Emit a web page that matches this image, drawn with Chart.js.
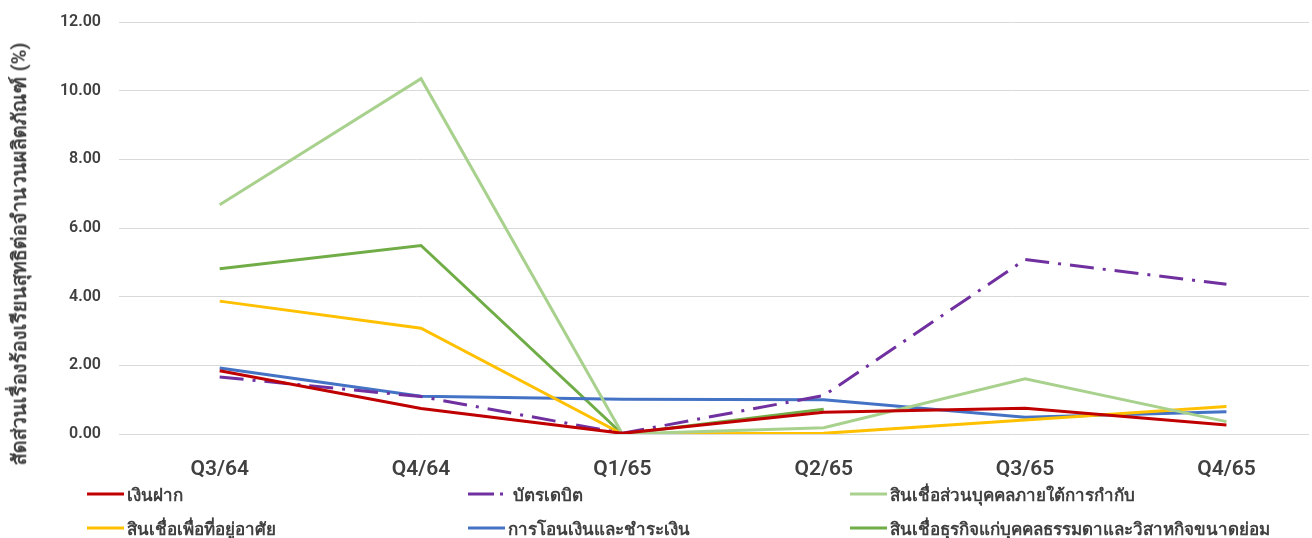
<!DOCTYPE html>
<html>
<head>
<meta charset="utf-8">
<script src="https://cdn.jsdelivr.net/npm/chart.js@4/dist/chart.umd.min.js"></script>
<style>
  html, body { margin: 0; padding: 0; background: #fff; overflow: hidden; }
  #wrap { position: relative; width: 1312px; height: 538px; }
  #yTitle {
    position: absolute; left: 19px; top: 254px;
    transform: translate(-50%, -50%) rotate(-90deg);
    white-space: nowrap;
    font: 700 20px Roboto, 'Noto Sans', sans-serif; color: #404040;
  }
  #legend {
    position: absolute; left: 87px; top: 482px;
    display: grid; grid-template-columns: 381px 382px auto; row-gap: 10px;
    font: 600 17px Roboto, 'Noto Sans', sans-serif; color: #404040;
  }
  .item { display: flex; align-items: center; height: 24px; white-space: nowrap; }
  .item svg { margin-right: 3px; }
</style>
</head>
<body>
<div id="wrap">
  <canvas id="chart" width="1312" height="538"></canvas>
  <div id="yTitle">สัดส่วนเรื่องร้องเรียนสุทธิต่อจำนวนผลิตภัณฑ์ (%)</div>
  <div id="legend"></div>
</div>
<script>
// ── Data ─────────────────────────────────────────────
const CATEGORIES = ['Q3/64', 'Q4/64', 'Q1/65', 'Q2/65', 'Q3/65', 'Q4/65'];
const Y_TICKS    = [0, 2, 4, 6, 8, 10, 12];

const DEPOSIT    = [1.84, 0.74, 0.02, 0.63, 0.75, 0.26];   // เงินฝาก
const DEBIT_CARD = [1.66, 1.09, 0.02, 1.12, 5.08, 4.36];   // บัตรเดบิต
const PERSONAL   = [6.68, 10.35, 0.00, 0.18, 1.61, 0.36];  // สินเชื่อส่วนบุคคลฯ
const HOUSING    = [3.87, 3.08, 0.00, 0.02, 0.41, 0.80];   // สินเชื่อเพื่อที่อยู่อาศัย
const TRANSFER   = [1.92, 1.10, 1.01, 1.00, 0.49, 0.65];   // การโอนเงินและชำระเงิน
const SME        = [4.81, 5.49, 0.00, 0.72, null, null];   // สินเชื่อธุรกิจฯ

const SERIES = [
  { label: 'เงินฝาก',                                      data: DEPOSIT,    color: '#C00000' },
  { label: 'บัตรเดบิต',                                     data: DEBIT_CARD, color: '#7030A0', dash: [24, 9, 3, 9] },
  { label: 'สินเชื่อส่วนบุคคลภายใต้การกำกับ',                   data: PERSONAL,   color: '#A9D18E' },
  { label: 'สินเชื่อเพื่อที่อยู่อาศัย',                           data: HOUSING,    color: '#FFC000' },
  { label: 'การโอนเงินและชำระเงิน',                           data: TRANSFER,   color: '#4472C4' },
  { label: 'สินเชื่อธุรกิจแก่บุคคลธรรมดาและวิสาหกิจขนาดย่อม',    data: SME,        color: '#70AD47' },
];

const FONT = "Roboto, 'Noto Sans', sans-serif";
const TEXT = '#404040';

const datasets = SERIES.map(s => ({
  label: s.label,
  data: s.data.map((v, i) => ({ x: i, y: v })),
  borderColor: s.color,
  backgroundColor: s.color,
  borderWidth: 3,
  borderDash: s.dash || [],
  borderCapStyle: 'butt',
  pointRadius: 0,
  tension: 0,
  spanGaps: false,
}));

new Chart(document.getElementById('chart'), {
  type: 'line',
  data: { datasets },
  options: {
    responsive: false,
    animation: false,
    layout: { padding: { top: 22, right: 3, left: 0, bottom: 0 } },
    plugins: { legend: { display: false }, tooltip: { enabled: false } },
    scales: {
      x: {
        type: 'linear',
        min: -0.5,
        max: 5.41,
        grid: { display: false },
        border: { display: false },
        afterBuildTicks: s => { s.ticks = CATEGORIES.map((_, i) => ({ value: i })); },
        afterFit: s => { s.height = 104; s.paddingLeft = 0; s.paddingRight = 0; },
        ticks: {
          autoSkip: false, maxRotation: 0, padding: 15,
          callback: v => CATEGORIES[v],
          font: { family: FONT, size: 21, weight: '600' }, color: TEXT,
        },
      },
      y: {
        min: 0,
        max: 12,
        afterBuildTicks: s => { s.ticks = Y_TICKS.map(v => ({ value: v })); },
        afterFit: s => { s.width = 119; s.paddingTop = 0; s.paddingBottom = 0; },
        grid: { color: '#D9D9D9', lineWidth: 1, drawTicks: false },
        border: { display: false },
        ticks: {
          padding: 18,
          callback: v => v.toFixed(2),
          font: { family: FONT, size: 16, weight: '600' }, color: TEXT,
        },
      },
    },
  },
});

// HTML legend, 3 columns
const legend = document.getElementById('legend');
SERIES.forEach(s => {
  const item = document.createElement('div');
  item.className = 'item';
  const w = s.dash ? 38 : 37;
  const dash = s.dash ? ` stroke-dasharray="26 6 3 20"` : '';
  item.innerHTML =
    `<svg width="${w}" height="6"><line x1="0" y1="3" x2="${w}" y2="3" stroke="${s.color}" stroke-width="3"${dash}/></svg>` +
    `<span style="margin-left:${s.dash ? 4 : 0}px">${s.label}</span>`;
  legend.appendChild(item);
});
</script>
</body>
</html>
